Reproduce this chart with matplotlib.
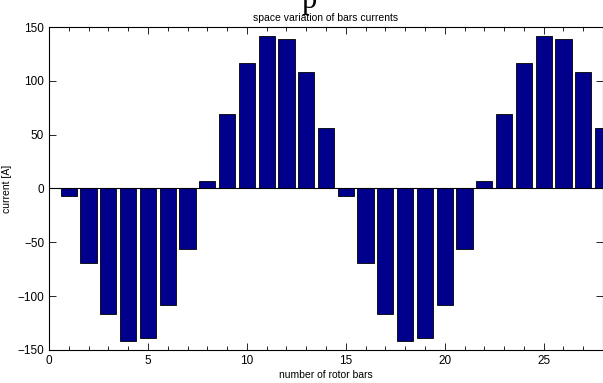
"""Space variation of rotor bar currents."""

import matplotlib

matplotlib.use("Agg")
import matplotlib.pyplot as plt
import matplotlib.ticker as mtick

# Data
bar_numbers = list(range(1, 29))
half_wave = [7, 69, 117, 142, 139, 108, 56]
bar_currents = (
    [-v for v in half_wave] + half_wave + [-v for v in half_wave] + half_wave
)

plt.rcParams["font.family"] = ["Liberation Sans", "DejaVu Sans"]

fig = plt.figure(figsize=(6.03, 3.83), dpi=100)
axis = fig.add_axes([0.0813, 0.0862, 0.9187, 0.8433])

# Bar plot
axis.bar(
    bar_numbers,
    bar_currents,
    width=0.82,
    color="#00008C",
    edgecolor="#000000",
    linewidth=0.6,
    zorder=2,
)
axis.axhline(0, color="black", linewidth=0.8, zorder=3)

# Prettifying
axis.set_xlim(0, 28)
axis.set_ylim(-150, 150)
axis.xaxis.set_major_locator(mtick.MultipleLocator(5))
axis.xaxis.set_minor_locator(mtick.MultipleLocator(1))
axis.yaxis.set_major_locator(mtick.MultipleLocator(50))
axis.tick_params(
    which="both", direction="in", top=True, right=True, labelsize=8.5, width=0.6
)
axis.tick_params(which="major", length=5)
axis.tick_params(which="minor", length=3)
for spine in axis.spines.values():
    spine.set_linewidth(0.8)

axis.set_title("space variation of bars currents", fontsize=7.5, pad=4)
axis.set_xlabel("number of rotor bars", fontsize=7.5, labelpad=2)
axis.set_ylabel("current [A]", fontsize=7.5, labelpad=4)

fig.text(0.5, 0.979, "p", family="Liberation Serif", fontsize=22, va="baseline")

plt.savefig("out.png", dpi=100)
